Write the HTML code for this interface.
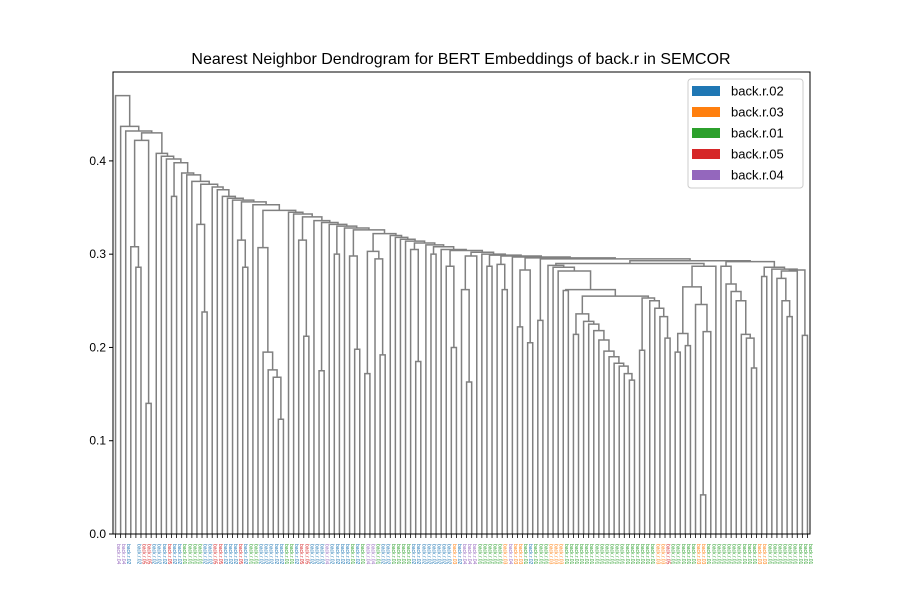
<!DOCTYPE html>
<html><head><meta charset="utf-8"><style>
body{margin:0;background:#fff;}
svg{display:block;font-family:"Liberation Sans","DejaVu Sans",sans-serif;}
</style></head><body>
<svg id="chart" width="900" height="600" viewBox="0 0 900 600">
<rect width="900" height="600" fill="#fff"/>
<text x="461" y="64" font-size="16" text-anchor="middle">Nearest Neighbor Dendrogram for BERT Embeddings of back.r in SEMCOR</text>
<g id="links"></g>
<g id="yaxis"></g>
<g id="xlabels"></g>
<rect x="113" y="72" width="697" height="462" fill="none" stroke="#000" stroke-width="1"/>
<g id="legend"></g>
</svg>
<script>
// ---- data ----
const yTicks = [0.0, 0.1, 0.2, 0.3, 0.4];
const senses = ["back.r.02","back.r.03","back.r.01","back.r.05","back.r.04"];
const senseColors = ["#1f77b4","#ff7f0e","#2ca02c","#d62728","#9467bd"];
// leaf sense codes (index into senses), left to right
const leafSenses = "4405033000300222200330003022000002203300040000202442002222000000001044422222141120222111222222222222222222113222221122222222221122222222222411222222221".split("").map(Number);
const L = 0;
// backbone: [merge height, left-hanging subtree]
const backbone = [
 [0.470, L],[0.437, L],[0.432, L],
 [0.430, [0.422, [0.308, L, [0.286, L, L]], [0.140, L, L]]],
 [0.408, L],[0.405, L],[0.402, L],[0.398, [0.362, L, L]],
 [0.387, L],[0.385, L],[0.378, L],[0.375, [0.332, L, [0.238, L, L]]],
 [0.372, L],[0.369, L],[0.362, L],[0.360, L],[0.358, L],
 [0.356, [0.315, L, [0.286, L, L]]],[0.353, L],
 [0.347, [0.307, L, [0.195, L, [0.176, L, [0.168, L, [0.123, L, L]]]]]],
 [0.345, L],[0.343, L],[0.340, [0.315, L, [0.212, L, L]]],[0.336, L],
 [0.334, [0.175, L, L]],[0.332, L],[0.330, [0.300, L, L]],[0.328, L],
 [0.326, [0.298, L, [0.198, L, L]]],
 [0.322, [0.303, [0.172, L, L], [0.295, L, [0.192, L, L]]]],
 [0.320, L],[0.318, L],[0.316, L],[0.314, L],[0.312, [0.305, L, [0.185, L, L]]],
 [0.310, L],[0.308, [0.300, L, L]],[0.305, L],[0.304, [0.287, L, [0.200, L, L]]],
 [0.302, [0.298, [0.262, L, [0.163, L, L]], L]],[0.300, L],
 [0.299, [0.287, L, L]],[0.298, [0.289, L, [0.262, L, L]]],[0.297, L],
 [0.296, [0.283, [0.222, L, L], [0.205, L, L]]],[0.295, [0.229, L, L]]
];
const rightTree =
 [0.293,
  [0.290,
   [0.288, L, [0.286, L, [0.282, L, [0.262, [0.261, L, L],
     [0.255, [0.236, [0.214, L, L], [0.228, L, [0.225, L, [0.218, L, [0.208, L, [0.196, L, [0.190, L, [0.183, L, [0.180, L, [0.172, L, [0.165, L, L]]]]]]]]]]],
      [0.253, [0.197, L, L], [0.250, L, [0.242, L, [0.233, L, [0.210, L, L]]]]]]]]]],
   [0.287, [0.265, [0.215, [0.195, L, L], [0.202, L, L]], [0.246, L, [0.217, [0.042, L, L], L]]], L]],
  [0.292,
   [0.287, L, [0.268, L, [0.260, L, [0.250, L, [0.214, L, [0.210, L, [0.178, L, L]]]]]]],
   [0.286, [0.276, L, L], [0.284, L, [0.283, [0.282, [0.274, L, [0.250, L, [0.233, L, L]]], L], [0.213, L, L]]]]]];

// ---- build tree ----
let tree = rightTree;
for (let i = backbone.length - 1; i >= 0; i--) tree = [backbone[i][0], backbone[i][1], tree];
function count(n){ return Array.isArray(n) ? count(n[1]) + count(n[2]) : 1; }
const nLeaves = count(tree);
const X0 = 113, X1 = 810, Y0 = 534, YTOP = 72;
const yMax = 0.4953;
function xScale(i){ return X0 + (5 + 10 * i) / (10 * nLeaves) * (X1 - X0); }
function yScale(v){ return Y0 - v / yMax * (Y0 - YTOP); }
const NS = "http://www.w3.org/2000/svg";
const linksG = document.getElementById("links");
let leafIdx = 0;
function layout(n){
  if (!Array.isArray(n)) { const x = xScale(leafIdx++); return {x: x, h: 0}; }
  const a = layout(n[1]), b = layout(n[2]);
  const p = document.createElementNS(NS, "path");
  const yh = yScale(n[0]);
  p.setAttribute("d", `M${a.x},${yScale(a.h)}V${yh}H${b.x}V${yScale(b.h)}`);
  p.setAttribute("fill", "none");
  p.setAttribute("stroke", "#808080");
  p.setAttribute("stroke-width", "1.5");
  
  
  linksG.appendChild(p);
  return {x: (a.x + b.x) / 2, h: n[0]};
}
layout(tree);

// ---- y axis ----
const ya = document.getElementById("yaxis");
yTicks.forEach(t => {
  const y = yScale(t);
  const ln = document.createElementNS(NS, "line");
  ln.setAttribute("x1", X0 - 4); ln.setAttribute("x2", X0); ln.setAttribute("y1", y); ln.setAttribute("y2", y);
  ln.setAttribute("stroke", "#000");
  
  
  ya.appendChild(ln);
  const tx = document.createElementNS(NS, "text");
  tx.setAttribute("x", X0 - 7); tx.setAttribute("y", y + 4);
  tx.setAttribute("font-size", "12"); tx.setAttribute("text-anchor", "end");
  tx.textContent = t.toFixed(1);
  
  
  ya.appendChild(tx);
});

// ---- leaf labels ----
const xl = document.getElementById("xlabels");
for (let i = 0; i < nLeaves; i++) {
  const x = xScale(i);
  const tk = document.createElementNS(NS, "line");
  tk.setAttribute("x1", x); tk.setAttribute("x2", x); tk.setAttribute("y1", Y0); tk.setAttribute("y2", Y0 + 4);
  tk.setAttribute("stroke", "#000"); tk.setAttribute("stroke-width", "0.8");
  
  
  xl.appendChild(tk);
  const s = leafSenses[i % leafSenses.length];
  const t = document.createElementNS(NS, "text");
  t.setAttribute("transform", `translate(${x + 1.5},${Y0 + 10}) rotate(90)`);
  t.setAttribute("font-size", "5");
  t.setAttribute("fill", senseColors[s]);
  t.textContent = senses[s];
  
  
  xl.appendChild(t);
}

// ---- legend ----
const lg = document.getElementById("legend");
const box = document.createElementNS(NS, "rect");
box.setAttribute("x", 688); box.setAttribute("y", 79); box.setAttribute("width", 115); box.setAttribute("height", 109);
box.setAttribute("rx", 3); box.setAttribute("fill", "#fff"); box.setAttribute("stroke", "#ccc");


lg.appendChild(box);
senses.forEach((s, i) => {
  const y = 91 + i * 21;
  const r = document.createElementNS(NS, "rect");
  r.setAttribute("x", 692); r.setAttribute("y", y - 5); r.setAttribute("width", 28); r.setAttribute("height", 10);
  r.setAttribute("fill", senseColors[i]);
  
  
  lg.appendChild(r);
  const t = document.createElementNS(NS, "text");
  t.setAttribute("x", 731); t.setAttribute("y", y + 4.5); t.setAttribute("font-size", "13");
  t.textContent = s;
  
  
  lg.appendChild(t);
});
</script>
</body></html>
